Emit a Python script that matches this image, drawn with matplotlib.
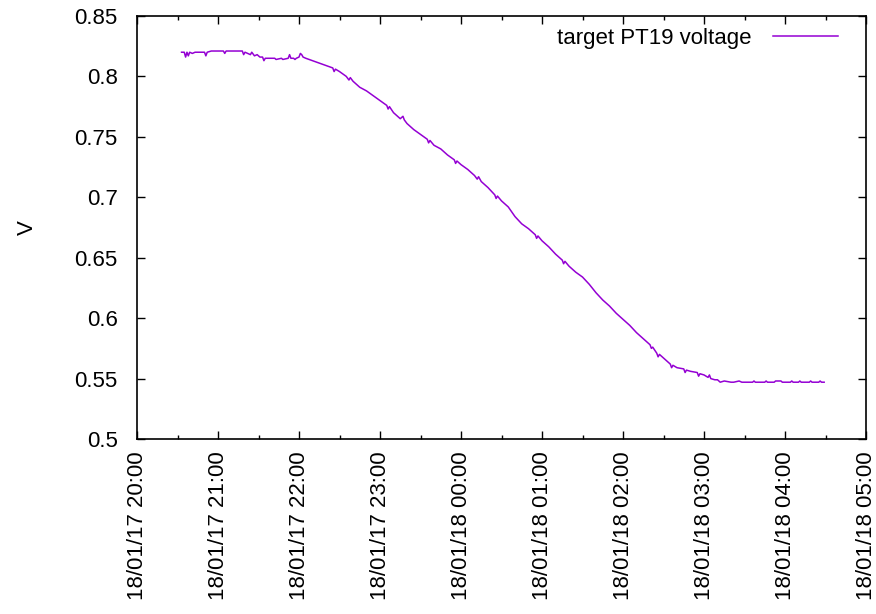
import pandas as pd
import numpy as np
import matplotlib
matplotlib.use('Agg')
import matplotlib.pyplot as plt
import matplotlib.dates as mdates
from matplotlib.ticker import FuncFormatter

# readings of target PT19 (time of day, volts); times before 20:00 are on the next day
times = ['20:33', '20:35', '20:36', '20:37', '20:38', '20:39', '20:41', '20:43', '20:47', '20:50',
         '20:51', '20:52', '20:55', '21:00', '21:04', '21:05', '21:06', '21:12', '21:18', '21:19',
         '21:20', '21:22', '21:24', '21:25', '21:27', '21:29', '21:31', '21:33', '21:34', '21:35',
         '21:40', '21:42', '21:43', '21:47', '21:48', '21:52', '21:53', '21:54', '21:56', '21:57',
         '21:58', '22:00', '22:01', '22:02', '22:03', '22:05', '22:10', '22:15', '22:20', '22:25',
         '22:26', '22:27', '22:30', '22:35', '22:37', '22:38', '22:40', '22:45', '22:50', '22:55',
         '23:00', '23:05', '23:06', '23:07', '23:10', '23:15', '23:17', '23:18', '23:20', '23:25',
         '23:30', '23:35', '23:36', '23:37', '23:40', '23:45', '23:50', '23:55', '23:56', '23:57',
         '00:00', '00:05', '00:10', '00:12', '00:13', '00:15', '00:20', '00:25', '00:26', '00:27',
         '00:30', '00:35', '00:40', '00:45', '00:50', '00:55', '00:56', '00:57', '01:00', '01:05',
         '01:10', '01:15', '01:16', '01:17', '01:20', '01:25', '01:30', '01:35', '01:40', '01:45',
         '01:50', '01:55', '02:00', '02:05', '02:10', '02:15', '02:20', '02:21', '02:22', '02:25',
         '02:26', '02:27', '02:30', '02:35', '02:36', '02:37', '02:40', '02:45', '02:46', '02:47',
         '02:50', '02:55', '02:56', '02:57', '03:00', '03:03', '03:04', '03:05', '03:08', '03:10',
         '03:12', '03:15', '03:20', '03:22', '03:26', '03:28', '03:36', '03:37', '03:38', '03:45',
         '03:46', '03:47', '03:52', '03:53', '03:57', '03:58', '04:04', '04:05', '04:06', '04:10',
         '04:11', '04:12', '04:18', '04:19', '04:20', '04:25', '04:26', '04:27', '04:29']
volts = [0.820, 0.820, 0.816, 0.820, 0.817, 0.820, 0.819, 0.820, 0.820, 0.820,
         0.817, 0.820, 0.821, 0.821, 0.821, 0.819, 0.821, 0.821, 0.821, 0.818,
         0.820, 0.819, 0.818, 0.820, 0.817, 0.818, 0.816, 0.816, 0.813, 0.815,
         0.815, 0.815, 0.814, 0.815, 0.814, 0.815, 0.818, 0.815, 0.815, 0.814,
         0.815, 0.816, 0.819, 0.818, 0.816, 0.815, 0.813, 0.811, 0.809, 0.807,
         0.804, 0.806, 0.804, 0.800, 0.797, 0.799, 0.796, 0.791, 0.788, 0.784,
         0.780, 0.776, 0.773, 0.775, 0.770, 0.765, 0.767, 0.764, 0.761, 0.756,
         0.752, 0.748, 0.745, 0.747, 0.743, 0.740, 0.735, 0.731, 0.728, 0.730,
         0.727, 0.723, 0.718, 0.715, 0.717, 0.713, 0.708, 0.702, 0.699, 0.701,
         0.697, 0.692, 0.684, 0.678, 0.674, 0.669, 0.666, 0.668, 0.664, 0.659,
         0.653, 0.648, 0.645, 0.647, 0.643, 0.638, 0.634, 0.628, 0.621, 0.615,
         0.610, 0.604, 0.599, 0.594, 0.588, 0.583, 0.578, 0.575, 0.576, 0.571,
         0.568, 0.570, 0.567, 0.562, 0.559, 0.561, 0.559, 0.558, 0.555, 0.557,
         0.556, 0.555, 0.552, 0.554, 0.553, 0.551, 0.553, 0.550, 0.549, 0.549,
         0.547, 0.548, 0.547, 0.547, 0.548, 0.547, 0.547, 0.548, 0.547, 0.547,
         0.548, 0.547, 0.547, 0.548, 0.548, 0.547, 0.547, 0.548, 0.547, 0.547,
         0.548, 0.547, 0.547, 0.548, 0.547, 0.547, 0.548, 0.547, 0.547]

t = pd.to_datetime(['2018-01-17 ' + s if s >= '20:00' else '2018-01-18 ' + s for s in times])

plt.rcParams['font.family'] = ['Liberation Sans', 'DejaVu Sans']
fs = 16

fig = plt.figure(figsize=(8.76, 6.14), dpi=100)
ax = fig.add_axes([0.1564, 0.285, 0.8322, 0.689])

ax.plot(t, volts, color='#9400d3', lw=1.1, label='target PT19 voltage')

ax.set_xlim(pd.Timestamp('2018-01-17 20:00'), pd.Timestamp('2018-01-18 05:00'))
ax.set_ylim(0.5, 0.85)
ax.set_yticks(np.arange(0.5, 0.851, 0.05))
ax.yaxis.set_major_formatter(FuncFormatter(lambda v, p: '%g' % round(v, 2)))

ax.xaxis.set_major_locator(mdates.HourLocator())
ax.xaxis.set_minor_locator(mdates.MinuteLocator(byminute=[30]))
ax.xaxis.set_major_formatter(mdates.DateFormatter('%y/%m/%d %H:%M'))
plt.setp(ax.get_xticklabels(), rotation=90)

ax.tick_params(which='both', direction='in', top=True, right=True, labelsize=fs, width=1)
ax.tick_params(which='major', length=6)
ax.tick_params(which='minor', length=3)
ax.tick_params(axis='x', which='major', pad=9)
ax.tick_params(axis='y', which='major', pad=14)
for s in ax.spines.values():
    s.set_linewidth(1.2)

ax.set_ylabel('V', fontsize=fs, labelpad=26)

ax.legend(loc='upper right', bbox_to_anchor=(0.978, 1.0), frameon=False, markerfirst=False,
          fontsize=fs, handlelength=2.9, handletextpad=1.0, borderaxespad=0.15)

fig.savefig('out.png')
